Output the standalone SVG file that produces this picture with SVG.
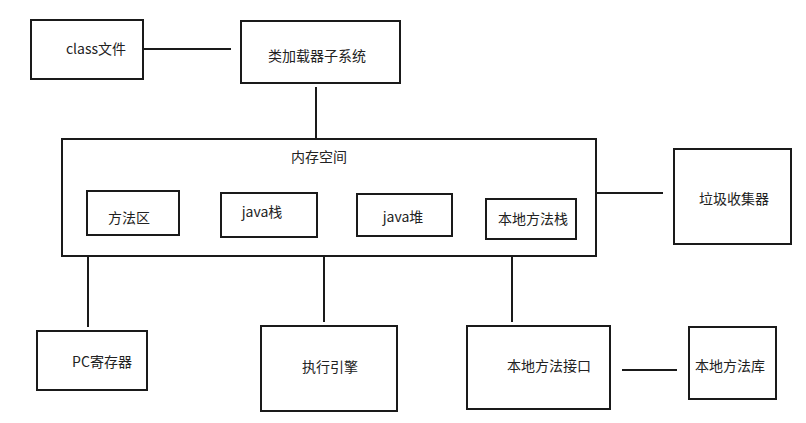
<svg xmlns="http://www.w3.org/2000/svg" width="806" height="423" viewBox="0 0 806 423">
<style>
.box{fill:#fff;stroke:#1a1a1a;stroke-width:2}
.ln{stroke:#1a1a1a;stroke-width:2;fill:none}
text{font-family:"Noto Sans CJK SC","Microsoft YaHei",sans-serif;font-size:14px;fill:#222;text-anchor:middle}
</style>
<rect width="806" height="423" fill="#fff"/>
<g id="connectors">
<line class="ln" x1="143" y1="49" x2="231" y2="49"/>
<line class="ln" x1="316" y1="87" x2="316" y2="139"/>
<line class="ln" x1="596" y1="193" x2="663" y2="193"/>
<line class="ln" x1="88" y1="257" x2="88" y2="327"/>
<line class="ln" x1="324" y1="257" x2="324" y2="322"/>
<line class="ln" x1="512" y1="257" x2="512" y2="322"/>
<line class="ln" x1="622" y1="370" x2="677" y2="370"/>
</g>
<g id="class-file"><rect class="box" x="31" y="20" width="112" height="59"/><text x="96" y="54">class文件</text></g>
<g id="class-loader"><rect class="box" x="241" y="21" width="159" height="62"/><text x="317" y="61">类加载器子系统</text></g>
<g id="memory"><rect class="box" x="62" y="139" width="534" height="117"/><text x="319" y="162">内存空间</text></g>
<g id="method-area"><rect class="box" x="87" y="191" width="92" height="44"/><text x="129" y="223">方法区</text></g>
<g id="java-stack"><rect class="box" x="221" y="193" width="96" height="44"/><text x="262" y="217">java栈</text></g>
<g id="java-heap"><rect class="box" x="357" y="194" width="95" height="42"/><text x="403" y="222">java堆</text></g>
<g id="native-stack"><rect class="box" x="486" y="199" width="90" height="40"/><text x="533" y="224">本地方法栈</text></g>
<g id="gc"><rect class="box" x="674" y="149" width="117" height="95"/><text x="734" y="204">垃圾收集器</text></g>
<g id="pc"><rect class="box" x="37" y="331" width="110" height="59"/><text x="102" y="367">PC寄存器</text></g>
<g id="engine"><rect class="box" x="261" y="326" width="136" height="85"/><text x="330" y="372">执行引擎</text></g>
<g id="native-interface"><rect class="box" x="467" y="326" width="143" height="83"/><text x="549" y="371">本地方法接口</text></g>
<g id="native-lib"><rect class="box" x="689" y="327" width="87" height="72"/><text x="730" y="371">本地方法库</text></g>
</svg>
